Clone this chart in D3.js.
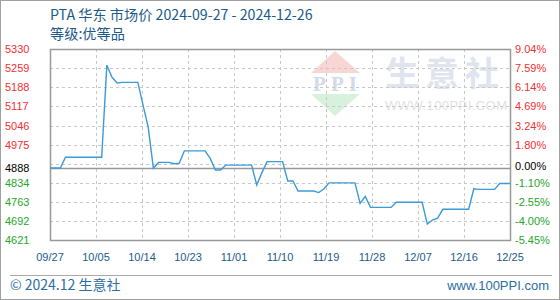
<!DOCTYPE html>
<html><head><meta charset="utf-8">
<script src="https://cdn.jsdelivr.net/npm/d3@7"></script>
<style>body{margin:0;background:#fff}svg{display:block}</style>
</head><body><svg id="c" width="560" height="300"></svg>
<script>
// ---- data ----
const titleText = "PTA 华东 市场价 2024-09-27 - 2024-12-26";
const subtitleText = "等级:优等品";
const footerLeft = "© 2024.12 生意社";
const footerRight = "www.100PPI.com";
const startDate = "2024-09-27";
const baseValue = 4888;
const baseLabelLeft = "4888";
const baseLabelRight = "0.00%";
const prices = [
  4888, 4888, 4888, 4928, 4928, 4928, 4928, 4928, 4928, 4928,
  4928, 5270, 5225, 5204, 5206, 5206, 5206, 5206, 5122, 5040,
  4888, 4909, 4909, 4909, 4904, 4906, 4952, 4952, 4952, 4952,
  4952, 4924, 4881, 4881, 4899, 4899, 4899, 4899, 4899, 4899,
  4825, 4871, 4912, 4912, 4912, 4912, 4840, 4840, 4803, 4803,
  4803, 4803, 4797, 4811, 4833, 4833, 4833, 4833, 4833, 4833,
  4757, 4783, 4742, 4742, 4742, 4742, 4742, 4761, 4761, 4761,
  4761, 4761, 4761, 4680, 4695, 4702, 4735, 4735, 4735, 4735,
  4735, 4735, 4811, 4809, 4809, 4809, 4809, 4831, 4831, 4831
];
const xTickLabels = ["09/27","10/05","10/14","10/23","11/01","11/10","11/19","11/28","12/07","12/16","12/25"];
const yTickValues = [5330, 5259, 5188, 5117, 5046, 4975, 4904, 4834, 4763, 4692, 4621];
const yLeftLabels = ["5330","5259","5188","5117","5046","4975","","4834","4763","4692","4621"];
const yRightLabels = ["9.04%","7.59%","6.14%","4.69%","3.24%","1.80%","","-1.10%","-2.55%","-4.00%","-5.45%"];

// ---- layout ----
const W = 560, H = 300;
const M = {left: 50, right: 510, top: 49, bottom: 240};
const C = {title: "#1b5a8a", up: "#f23030", down: "#2aa52a", base: "#000", line: "#3b9ad8",
           grid: "#c8c8c8", frame: "#999"};
const FONT = "'Liberation Sans', Arial, sans-serif";
const CJK = "'Noto Sans CJK SC', 'Noto Sans', sans-serif";

const svg = d3.select("#c");
const t0 = d3.isoParse(startDate + "T00:00:00");
const dates = prices.map((_, i) => d3.timeDay.offset(t0, i));
const data = prices.map((v, i) => ({date: dates[i], value: v}));

const x = d3.scaleTime().domain(d3.extent(dates)).range([M.left, M.right]);
const y = d3.scaleLinear().domain([d3.min(yTickValues), d3.max(yTickValues)]).range([M.bottom, M.top]);

// outer border
svg.append("rect").attr("x", 0.5).attr("y", 0.5).attr("width", W - 1).attr("height", H - 1)
  .attr("fill", "#fff").attr("stroke", "#a0a0a0");

// watermark
const wm = svg.append("g");
wm.append("path").attr("d", "M335,51 L360,73 L311,73 Z").attr("fill", "#f7d6d3");
wm.append("path").attr("d", "M311,94 L360,94 L335,116 Z").attr("fill", "#d8f0de");
wm.append("text").attr("x", 335).attr("y", 91).attr("text-anchor", "middle")
  .attr("font-family", "'Liberation Serif', serif").attr("font-weight", "bold")
  .attr("font-size", 21).attr("fill", "#d3dbea").attr("textLength", 44).text("PPI");
wm.append("text").attr("x", 446).attr("y", 86).attr("text-anchor", "middle")
  .attr("font-family", CJK).attr("font-weight", "bold").attr("font-size", 34)
  .attr("fill", "#dfe4ee").attr("letter-spacing", 8).attr("textLength", 122).text("生意社");
wm.append("text").attr("x", 446).attr("y", 110).attr("text-anchor", "middle")
  .attr("font-family", FONT).attr("font-size", 13).attr("fill", "#e2e2e2")
  .attr("textLength", 122).text("WWW.100PPI.COM");

// gridlines
const xTickPos = xTickLabels.map((_, i) => M.left + (M.right - M.left) * i / (xTickLabels.length - 1));
const grid = svg.append("g").attr("stroke", C.grid).attr("stroke-dasharray", "3,3");
xTickPos.slice(1, -1).forEach(px => {
  grid.append("line").attr("x1", Math.round(px) + 0.5).attr("x2", Math.round(px) + 0.5)
    .attr("y1", M.top).attr("y2", M.bottom);
});
yTickValues.slice(1, -1).forEach(v => {
  const py = Math.round(y(v)) + 0.5;
  grid.append("line").attr("x1", M.left).attr("x2", M.right).attr("y1", py).attr("y2", py);
});

// base line
const by = Math.round(y(baseValue)) + 0.5;
svg.append("line").attr("x1", M.left).attr("x2", M.right).attr("y1", by).attr("y2", by)
  .attr("stroke", C.frame).attr("stroke-width", 1.5);

// plot frame
svg.append("rect").attr("x", M.left + 0.5).attr("y", M.top + 0.5)
  .attr("width", M.right - M.left).attr("height", M.bottom - M.top)
  .attr("fill", "none").attr("stroke", C.frame).attr("stroke-width", 1.5);

// line
svg.append("path").datum(data)
  .attr("d", d3.line().x(d => x(d.date)).y(d => y(d.value)))
  .attr("fill", "none").attr("stroke", C.line).attr("stroke-width", 1.4);

// y labels
const colorFor = v => v > baseValue ? C.up : (v < baseValue ? C.down : C.base);
const yl = svg.append("g").attr("font-family", FONT).attr("font-size", 11);
yTickValues.forEach((v, i) => {
  if (!yLeftLabels[i]) return;
  yl.append("text").attr("x", 5).attr("y", y(v) + 4).attr("fill", colorFor(v)).text(yLeftLabels[i]);
  yl.append("text").attr("x", 515).attr("y", y(v) + 4).attr("fill", colorFor(v)).text(yRightLabels[i]);
});
yl.append("text").attr("x", 5).attr("y", y(baseValue) + 4).attr("fill", C.base).text(baseLabelLeft);
yl.append("text").attr("x", 515).attr("y", y(baseValue) + 2).attr("fill", C.base).text(baseLabelRight);

// x labels
const xl = svg.append("g").attr("font-family", FONT).attr("font-size", 11).attr("fill", C.title)
  .attr("text-anchor", "middle");
xTickLabels.forEach((lab, i) => {
  xl.append("text").attr("x", xTickPos[i]).attr("y", 261).text(lab);
});

// titles
svg.append("text").attr("x", 50).attr("y", 20).attr("font-family", CJK).attr("font-size", 14.2)
  .attr("fill", C.title).text(titleText);
svg.append("text").attr("x", 50).attr("y", 39).attr("font-family", CJK).attr("font-size", 14.2)
  .attr("fill", C.title).text(subtitleText);

// footer
svg.append("line").attr("x1", 10).attr("x2", 552).attr("y1", 275.5).attr("y2", 275.5)
  .attr("stroke", "#aaa").attr("stroke-width", 1);
svg.append("text").attr("x", 10).attr("y", 290).attr("font-family", CJK).attr("font-size", 14)
  .attr("fill", "#2b6ea3").text(footerLeft);
svg.append("text").attr("x", 549).attr("y", 290).attr("text-anchor", "end").attr("font-family", FONT)
  .attr("font-size", 13).attr("fill", "#2b6ea3").text(footerRight);
</script></body></html>
